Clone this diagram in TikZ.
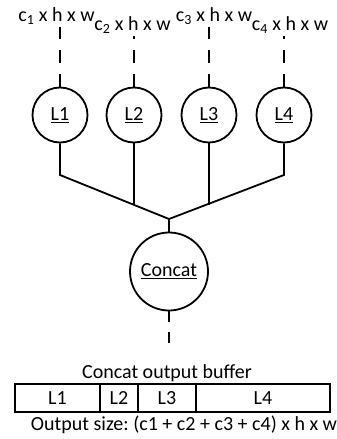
\documentclass[tikz,border=0pt]{standalone}
\usepackage{fontspec}
\setmainfont{Carlito}
\frenchspacing
\begin{document}
\begin{tikzpicture}[x=1pt,y=-1pt,
  line width=1.8pt,
  txt/.style={font=\fontsize{20}{24}\selectfont},
  layer/.style={txt,circle,draw,minimum size=55pt,inner sep=0pt},
  joinop/.style={txt,circle,draw,minimum size=78pt,inner sep=0pt},
  dimlabel/.style={txt,anchor=base,inner sep=0pt},
  plain/.style={txt,anchor=base,inner sep=0pt},
  feed/.style={dash pattern=on 13pt off 11pt},
  cell/.style={txt,draw,minimum height=28pt,inner sep=0pt}
]
\useasboundingbox (0,0) rectangle (337,439);

% input tensors
\node[dimlabel] (d1) at (56.5,21.5) {c\textsubscript{1} x h x w};
\node[dimlabel] (d2) at (132.5,30) {c\textsubscript{2} x h x w};
\node[dimlabel] (d3) at (214,21.5) {c\textsubscript{3} x h x w};
\node[dimlabel] (d4) at (290,30) {c\textsubscript{4} x h x w};

\coordinate (t1) at (60,27);
\coordinate (t2) at (134,36);
\coordinate (t3) at (209,27);
\coordinate (t4) at (284,36);

% layers
\node[layer] (L1) at (60,115) {\underline{L1}};
\node[layer] (L2) at (134,115) {\underline{L2}};
\node[layer] (L3) at (209,115) {\underline{L3}};
\node[layer] (L4) at (284,115) {\underline{L4}};

\foreach \i in {1,...,4}
  \draw[feed] (L\i.north) -- (t\i);

% merging tree
\coordinate (m) at (169,219);
\coordinate (e1) at (60,175);
\coordinate (e4) at (284,175);
\coordinate (e2) at (134,205);
\coordinate (e3) at (209,205);
\draw (L1.south) -- (e1) -- (m) -- (e4) -- (L4.south);
\draw (L2.south) -- (e2);
\draw (L3.south) -- (e3);

\node[joinop] (cc) at (169,271.5) {\underline{Concat}};
\draw (m) -- (cc.north);

\coordinate (out) at (169,343);
\draw[dash pattern=on 11pt off 10pt] (cc.south) -- (out);

% output buffer
\node[plain] (title) at (167,378) {Concat output buffer};
\node[cell,minimum width=85pt] (b1) at (57.5,398) {L1};
\node[cell,minimum width=38pt] (b2) at (119,398) {L2};
\node[cell,minimum width=58pt] (b3) at (167,398) {L3};
\node[cell,minimum width=134pt] (b4) at (263,398) {L4};
\node[plain] (size) at (184,430) {Output size: (c1 + c2 + c3 + c4) x h x w};
\end{tikzpicture}
\end{document}
